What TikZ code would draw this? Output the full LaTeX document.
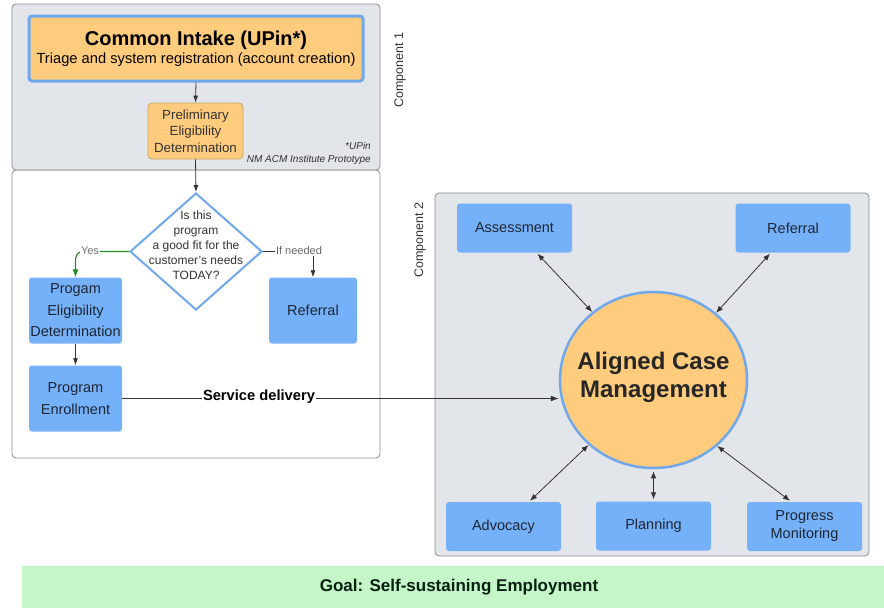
\documentclass[tikz,border=0pt]{standalone}
\usepackage{fontspec}
\setmainfont{Liberation Sans}
\usetikzlibrary{shapes.geometric,arrows.meta,calc}
\definecolor{panelgray}{HTML}{E2E5EA}
\definecolor{panelline}{HTML}{8C8C8C}
\definecolor{orangefill}{HTML}{FFCB7C}
\definecolor{orangeline}{HTML}{C9A46A}
\definecolor{bluebox}{HTML}{75B1F8}
\definecolor{blueline}{HTML}{6FA9EC}
\definecolor{darktext}{HTML}{1E2634}
\definecolor{goalgreen}{HTML}{C4F6C8}
\definecolor{yesgreen}{HTML}{228B22}
\definecolor{arrowgray}{HTML}{333333}
\tikzset{
  bluenode/.style={rectangle, rounded corners=3pt, fill=bluebox, draw=none, text=darktext, align=center, inner sep=0pt, font=\fontsize{14.5}{21.5}\selectfont},
  smallblue/.style={bluenode, minimum width=115pt, minimum height=49pt, font=\fontsize{14.5}{18}\selectfont},
  link/.style={draw=arrowgray, line width=0.8pt, {Latex[length=7pt,width=5.5pt]}-{Latex[length=7pt,width=5.5pt]}},
  flow/.style={draw=arrowgray, line width=0.8pt, -{Latex[length=7pt,width=5pt]}},
  panel/.style={draw=panelline, line width=0.8pt, rounded corners=4pt},
  lbl/.style={font=\fontsize{11}{13}\selectfont, fill=white, inner sep=1pt, text=gray!80!black}
}
\begin{document}
\begin{tikzpicture}[x=1pt,y=-1pt]
\useasboundingbox (0,0) rectangle (884,608);
% Component 1 panels
\draw[panel, fill=white] (12,170) rectangle (380,458);
\draw[panel, fill=panelgray] (12,4) rectangle (380,170);
\node[rotate=90, font=\fontsize{12.5}{14}\selectfont, text=arrowgray] (c1) at (400,70) {Component 1};
% Component 2 panel
\draw[panel, fill=panelgray] (435,193) rectangle (869,556);
\node[rotate=90, font=\fontsize{12.5}{14}\selectfont, text=arrowgray] (c2) at (420,240) {Component 2};
% Goal bar
\fill[goalgreen] (22,566) rectangle (884,608);
\node[font=\fontsize{17}{20}\selectfont\bfseries, text=darktext!80!green!40!black] (goal) at (459,587) {Goal: Self-sustaining Employment};

% Common intake
\node[rectangle, rounded corners=3pt, fill=orangefill, draw=blueline, line width=3pt, minimum width=334pt, minimum height=65pt, align=center, inner sep=0pt, text=black] (ci) at (196,48.5)
 {{\fontsize{20}{22}\selectfont\bfseries Common Intake (UPin*)}\\[2pt]{\fontsize{14.7}{17}\selectfont Triage and system registration (account creation)}};
% Preliminary
\node[rectangle, rounded corners=4pt, fill=orangefill, draw=orangeline, line width=0.8pt, minimum width=95pt, minimum height=56pt, align=center, inner sep=0pt, text=arrowgray, font=\fontsize{13.3}{16.5}\selectfont] (pre) at (195.5,131) {Preliminary\\Eligibility\\Determination};
\node[anchor=east, font=\fontsize{10}{12}\selectfont\itshape, text=arrowgray, inner sep=0pt] (up1) at (371,146) {*UPin};
\node[anchor=east, font=\fontsize{10}{12}\selectfont\itshape, text=arrowgray, inner sep=0pt] (up2) at (371,160) {NM ACM Institute Prototype};
% Diamond
\node[diamond, draw=blueline, line width=2pt, fill=white, minimum width=132pt, minimum height=117pt, inner sep=0pt, aspect=1.13] (dia) at (196,251.5) {};
\node[align=center, font=\fontsize{12}{15}\selectfont, text=arrowgray, inner sep=0pt] (diat) at (196,245) {Is this\\program\\a good fit for the\\customer{\char"0027}s needs\\TODAY?};
% Left boxes
\node[bluenode, minimum width=93pt, minimum height=66pt] (ped) at (75.5,310.5) {Progam\\Eligibility\\Determination};
\node[bluenode, minimum width=88pt, minimum height=66pt] (refl) at (313,310.5) {Referral};
\node[bluenode, minimum width=93pt, minimum height=66pt] (pe) at (75.5,398.5) {Program\\Enrollment};
% Circle
\node[ellipse, fill=orangefill, draw=blueline, line width=2.5pt, minimum width=187pt, minimum height=176pt, inner sep=0pt] (acm) at (653.5,380) {};
\node[align=center, inner sep=0pt, text=black!85, font=\fontsize{24}{28}\selectfont\bfseries] (acmt) at (653.5,377) {Aligned Case\\Management};
% Component 2 boxes
\node[smallblue] (asm) at (514.5,228) {Assessment};
\node[smallblue] (refr) at (793,228) {Referral};
\node[smallblue] (adv) at (503.5,526.5) {Advocacy};
\node[smallblue] (pln) at (653.5,526) {Planning};
\node[smallblue] (prg) at (804.5,526.5) {Progress\\Monitoring};

% Connectors
\draw[flow] (ci.south) -- (pre.north);
\draw[flow] (pre.south) -- (dia.north);
\draw[draw=yesgreen, line width=1.1pt, -{Latex[length=8pt,width=6pt]}] (dia.west) -- (84,251.5) .. controls (77,251.5) and (75.5,255) .. (75.5,263) -- (ped.north);
\node[lbl, text=gray!90!black] (yes) at (90,251) {Yes};
\draw[flow] (dia.east) -- (313,251.5) -- (refl.north);
\node[lbl] (ifn) at (299,251) {If needed};
\draw[flow] (ped.south) -- (pe.north);
\draw[draw=arrowgray, line width=1pt, -{Latex[length=8pt,width=6pt]}] (pe.east) -- (pe.east -| acm.west);
\node[font=\fontsize{14.7}{17}\selectfont\bfseries, fill=white, inner sep=1pt, text=black] (sd) at (259,397) {Service delivery};
\draw[link] ($(asm.south)+(23,1)$) -- (acm.132);
\draw[link] ($(refr.south)+(-23,1)$) -- (acm.47);
\draw[link] ($(adv.north)+(26.5,-1)$) -- (acm.225);
\draw[link] ($(pln.north)+(0,-2)$) -- ($(acm.south)+(0,2)$);
\draw[link] ($(prg.north)+(-14.5,-1)$) -- (acm.-46);
\end{tikzpicture}
\end{document}
